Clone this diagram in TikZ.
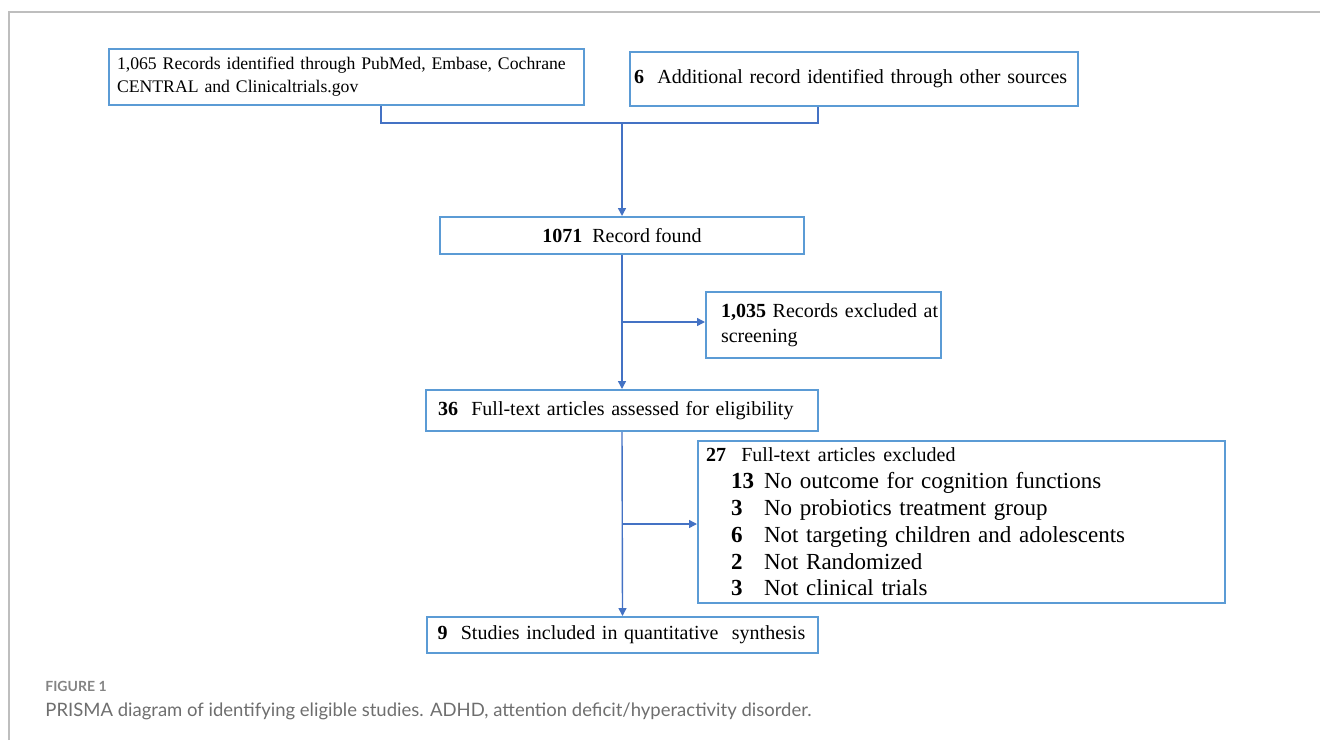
\documentclass[tikz,border=0pt]{standalone}
\usepackage{fontspec}
\setmainfont{Liberation Serif}
\newfontfamily\capfont{Lato}
\usepackage{tikz}
\usetikzlibrary{arrows.meta, calc}
\definecolor{boxblue}{RGB}{91, 155, 213}
\definecolor{lineblue}{RGB}{68, 114, 196}
\definecolor{framegray}{RGB}{190, 190, 190}
\definecolor{capgray}{RGB}{110, 110, 110}
\newcommand{\exclitem}[2]{\hspace*{12.5pt}\makebox[16.5pt][l]{\textbf{#1}}#2}
\tikzset{
  recbox/.style={
    draw=boxblue, rectangle, line width=1pt,
    inner ysep=2pt, inner xsep=2pt, align=left,
    font=\fontsize{10}{12.5}\selectfont
  },
  link/.style={
    draw=lineblue, line width=0.7pt
  },
  arrow/.style={
    link, -{Triangle[length=4pt, width=4pt]}
  }
}

\begin{document}
\begin{tikzpicture}[x=0.5pt, y=-0.5pt]
  \useasboundingbox (0,0) rectangle (1320,740);
  \draw[framegray, line width=1pt] (9,740) -- (9,12) -- (1320,12);

  \node[recbox, minimum width=237.5pt, minimum height=28pt, text width=229pt, inner xsep=4.25pt, font=\fontsize{8.85}{11.5}\selectfont] (search) at (346,77) {1,065 Records identified through PubMed, Embase, Cochrane\\CENTRAL and Clinicaltrials.gov};
  \node[recbox, minimum width=224pt, minimum height=27pt, text width=220pt] (other) at (854,79) {\textbf{6}\ \ Additional record identified through other sources};
  \node[recbox, minimum width=182pt, minimum height=18.5pt, align=center] (found) at (622,235.5) {\textbf{1071}\ \ Record found};
  \node[recbox, minimum width=117.5pt, minimum height=33pt, text width=102.5pt, inner xsep=7.5pt] (screened) at (823.5,325) {\mbox{\textbf{1,035} Records excluded at}\\screening};
  \node[recbox, minimum width=196pt, minimum height=20.5pt, text width=184pt, inner xsep=6pt] (fulltext) at (622,410.5) {\textbf{36}\ \ Full-text articles assessed for eligibility};
  \node[recbox, minimum width=263.5pt, minimum height=81pt, text width=255.5pt, inner xsep=4pt, font=\fontsize{11.5}{13.4}\selectfont] (excluded) at (961.5,522) {%
    {\fontsize{10}{13.4}\selectfont\textbf{27}\ \ Full-text articles excluded}\\
    \exclitem{13}{No outcome for cognition functions}\\
    \exclitem{3}{No probiotics treatment group}\\
    \exclitem{6}{Not targeting children and adolescents}\\
    \exclitem{2}{Not Randomized}\\
    \exclitem{3}{Not clinical trials}};
  \node[recbox, minimum width=195.5pt, minimum height=18pt, text width=185pt, inner xsep=5.25pt] (included) at (622.5,635) {\textbf{9}\ \ Studies included in quantitative\ \ synthesis};

  % identification bracket
  \coordinate (join) at (622,123);
  \draw[link] ($(search.south west)!0.573!(search.south east)$) |- (join) -| ($(other.south west)!0.42!(other.south east)$);
  \draw[arrow] (join) -- (found.north);
  \draw[arrow] (found.south) -- (fulltext.north);
  \draw[arrow] (fulltext.south) -- (included.north);
  \draw[arrow] ($(found.south)!0.5!(fulltext.north)$) coordinate (split1) -- (split1 -| screened.west);
  \draw[arrow] ($(fulltext.south)!0.5!(included.north)$) coordinate (split2) -- (split2 -| excluded.west);

  \node[anchor=west, inner sep=0pt, text=capgray!85, font=\capfont\bfseries\fontsize{7}{8}\selectfont] (figlabel) at (45,686) {FIGURE 1};
  \node[anchor=west, inner sep=0pt, text=capgray, font=\capfont\fontsize{9.25}{11}\selectfont] (caption) at (45,711) {PRISMA diagram of identifying eligible studies. ADHD, attention deficit/hyperactivity disorder.};
\end{tikzpicture}
\end{document}
